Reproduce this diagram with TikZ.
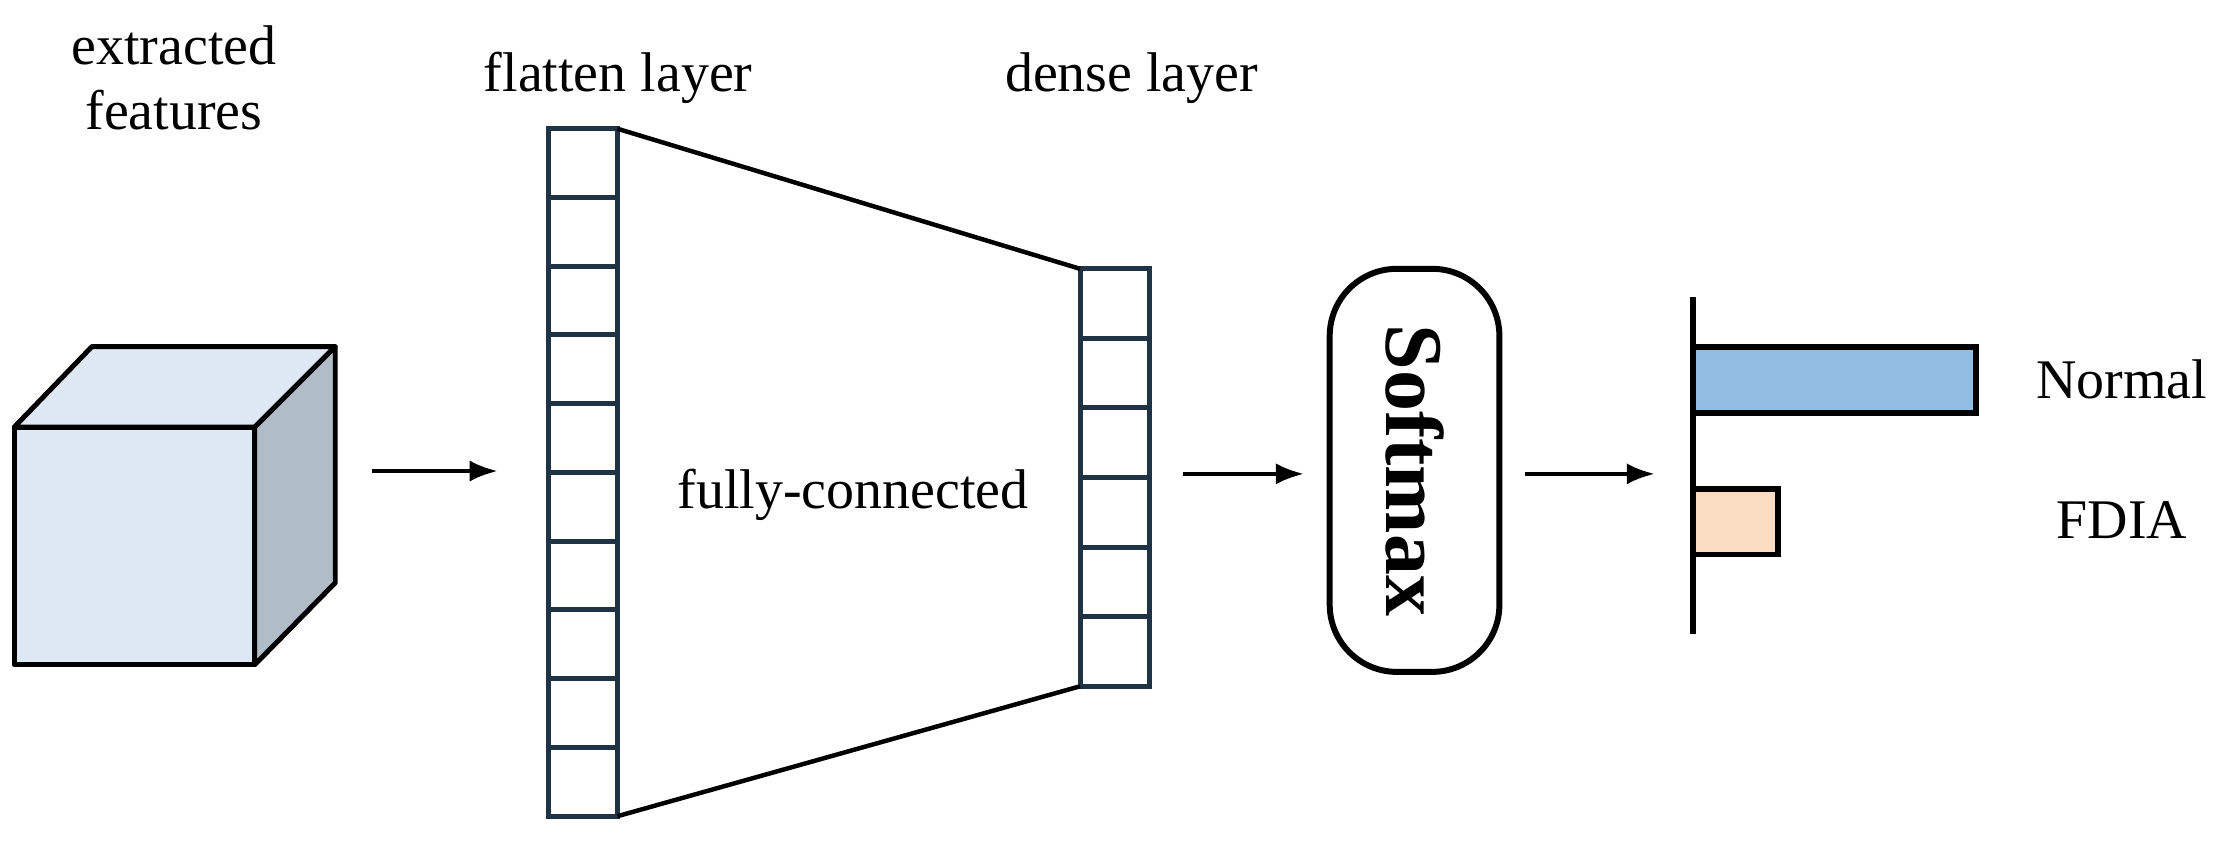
\documentclass[tikz,border=0pt]{standalone}
\usepackage{fontspec}
\setmainfont{Liberation Serif}
\usetikzlibrary{positioning,arrows.meta}
\definecolor{navy}{HTML}{1F3344}
\definecolor{cubefront}{HTML}{DDE8F4}
\definecolor{cubeside}{HTML}{B0BCC6}
\definecolor{barblue}{HTML}{93BDE0}
\definecolor{barpeach}{HTML}{FBDDC3}
\begin{document}
\begin{tikzpicture}[
                x=0.02cm, y=-0.02cm,
                txt/.style = {font=\fontsize{22.5}{26}\selectfont, align=center},
                cell/.style = {draw=navy, line width=2pt, minimum width=0.98cm, minimum height=0.97cm, inner sep=0pt, outer sep=0pt},
                arr/.style = {-{Latex[length=4mm,width=3mm]}, line width=1.8pt},
                face/.style = {draw, line width=2pt, line join=round}
            ]
            \useasboundingbox (0,0) rectangle (1568,596);
            % cube
            \filldraw[face, fill=cubefront] (10,302) rectangle (180,470);
            \filldraw[face, fill=cubefront] (10,302) -- (65,245) -- (237,245) -- (180,302) -- cycle;
            \filldraw[face, fill=cubeside] (180,302) -- (237,245) -- (237,412) -- (180,470) -- cycle;
            \coordinate (cube) at (237,333);
            \node[txt] (feat) at (123,55) {extracted\\features};
            % flatten layer
            \foreach \i in {0,...,9}
                \node[cell, minimum height=0.972cm] (f\i) at (412,{115.3+48.6*\i}) {};
            \node[txt] (flab) at (437,55) {flatten layer};
            % dense layer
            \foreach \i in {0,...,5}
                \node[cell, minimum height=0.983cm] (d\i) at (788,{214.6+49.2*\i}) {};
            \node[txt] (dlab) at (800,55) {dense layer};
            \draw[line width=1.8pt] (f0.north east) -- (d0.north west)
                (f9.south east) -- (d5.south west);
            \node[txt] (fc) at (603,350) {fully-connected};
            % softmax
            \node[draw, line width=2.4pt, rounded corners=0.95cm, minimum width=2.4cm, minimum height=5.7cm] (soft) at (1000,332.5) {};
            \node[rotate=-90, font=\fontsize{33}{36}\selectfont\bfseries] at (soft) {Softmax};
            % output
            \coordinate (ax1) at (1197,210);
            \coordinate (ax2) at (1197,448);
            \draw[line width=2.4pt] (ax1) -- (ax2);
            \filldraw[line width=2.4pt, fill=barblue] (1197,245) rectangle (1397,292);
            \filldraw[line width=2.4pt, fill=barpeach] (1197,346) rectangle (1257,392);
            \node[txt] (normal) at (1500,268) {Normal};
            \node[txt] (fdia) at (1500,368) {FDIA};
            % arrows
            \coordinate (a1) at (263,333);
            \coordinate (a2) at (352,333);
            \coordinate (b1) at (836,335);
            \coordinate (b2) at (922,335);
            \coordinate (c1) at (1078,335);
            \coordinate (c2) at (1170,335);
            \draw[arr] (a1) -- (a2);
            \draw[arr] (b1) -- (b2);
            \draw[arr] (c1) -- (c2);
        \end{tikzpicture}
\end{document}
